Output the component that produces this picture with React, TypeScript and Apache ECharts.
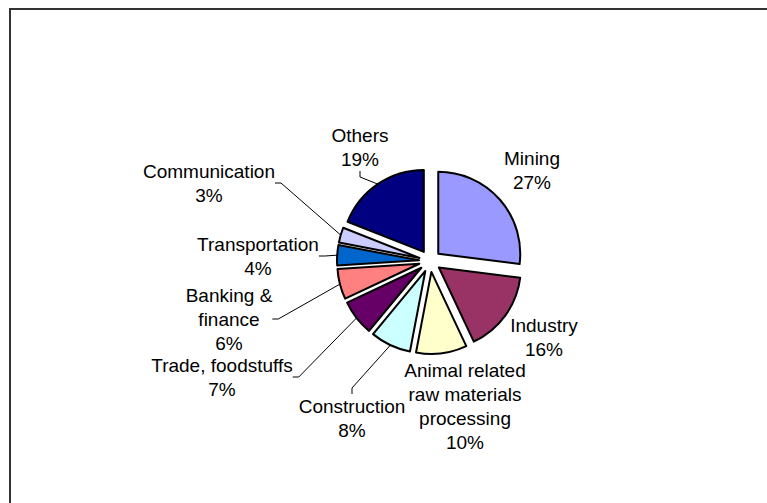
import React, { useEffect, useRef } from "react";
import * as echarts from "echarts";

// Sector shares (%), clockwise from 12 o'clock
const categories = [
  "Mining",
  "Industry",
  "Animal related\nraw materials\nprocessing",
  "Construction",
  "Trade, foodstuffs",
  "Banking &\nfinance",
  "Transportation",
  "Communication",
  "Others",
];
const values = [27, 16, 10, 8, 7, 6, 4, 3, 19];
const colors = [
  "#9999FF",
  "#993366",
  "#FFFFCC",
  "#CCFFFF",
  "#660066",
  "#FF8080",
  "#0066CC",
  "#CCCCFF",
  "#000080",
];
const showLeader = [false, false, false, true, true, true, true, true, true];
// label block centers (layout only)
const labelPos: [number, number][] = [
  [532, 170],
  [544, 337],
  [465, 406],
  [352, 418],
  [222, 377],
  [229, 319],
  [258, 256],
  [209, 183],
  [360, 147],
];

export default function App() {
  const ref = useRef<HTMLDivElement>(null);
  useEffect(() => {
    if (!ref.current) return;
    const chart = echarts.init(ref.current, undefined, { renderer: "svg" });
    const font = "'Liberation Sans', Arial, Helvetica, sans-serif";
    const center = [430, 261];
    const R = 82;
    const OFF = 11;
    chart.setOption({
      animation: false,
      backgroundColor: "#ffffff",
      graphic: [
        {
          type: "rect",
          shape: { x: 10, y: 9, width: 900, height: 700 },
          style: { fill: "none", stroke: "#333333", lineWidth: 2 },
          silent: true,
          z: -1,
        },
      ],
      series: [
        // label carrier: same data, invisible, radius equal to exploded outer edge
        {
          type: "pie",
          center,
          radius: [0, R + OFF],
          startAngle: 90,
          clockwise: true,
          silent: true,
          z: 1,
          emphasis: { disabled: true },
          itemStyle: { color: "rgba(0,0,0,0)", borderWidth: 0 },
          label: {
            show: true,
            position: "outside",
            color: "#000000",
            fontFamily: font,
            fontSize: 19,
            lineHeight: 24,
            align: "center",
            formatter: (p: any) => `${p.name}\n${p.value}%`,
          },
          labelLine: {
            show: true,
            length: 8,
            length2: 6,
            lineStyle: { color: "#000000", width: 1 },
          },
          labelLayout: (params: any) => {
            const pos = labelPos[params.dataIndex];
            return {
              x: pos[0],
              y: pos[1],
              align: "center",
              verticalAlign: "middle",
              hideOverlap: false,
            };
          },
          data: categories.map((name, i) => ({
            name,
            value: values[i],
            itemStyle: { color: "rgba(0,0,0,0)", borderWidth: 0 },
            labelLine: { show: showLeader[i] },
          })),
        },
        // exploded pie
        {
          type: "pie",
          center,
          radius: [0, R],
          startAngle: 90,
          clockwise: true,
          selectedMode: "multiple",
          selectedOffset: OFF,
          silent: true,
          z: 2,
          emphasis: { disabled: true },
          itemStyle: { borderColor: "#000000", borderWidth: 2 },
          label: { show: false },
          labelLine: { show: false },
          data: categories.map((name, i) => ({
            name,
            value: values[i],
            selected: true,
            itemStyle: { color: colors[i], borderColor: "#000000", borderWidth: 2 },
            select: {
              itemStyle: { color: colors[i], borderColor: "#000000", borderWidth: 2 },
            },
          })),
        },
      ],
    });
    return () => chart.dispose();
  }, []);
  return (
    <div
      ref={ref}
      style={{ position: "absolute", left: 0, top: 0, width: 767, height: 503 }}
    />
  );
}
